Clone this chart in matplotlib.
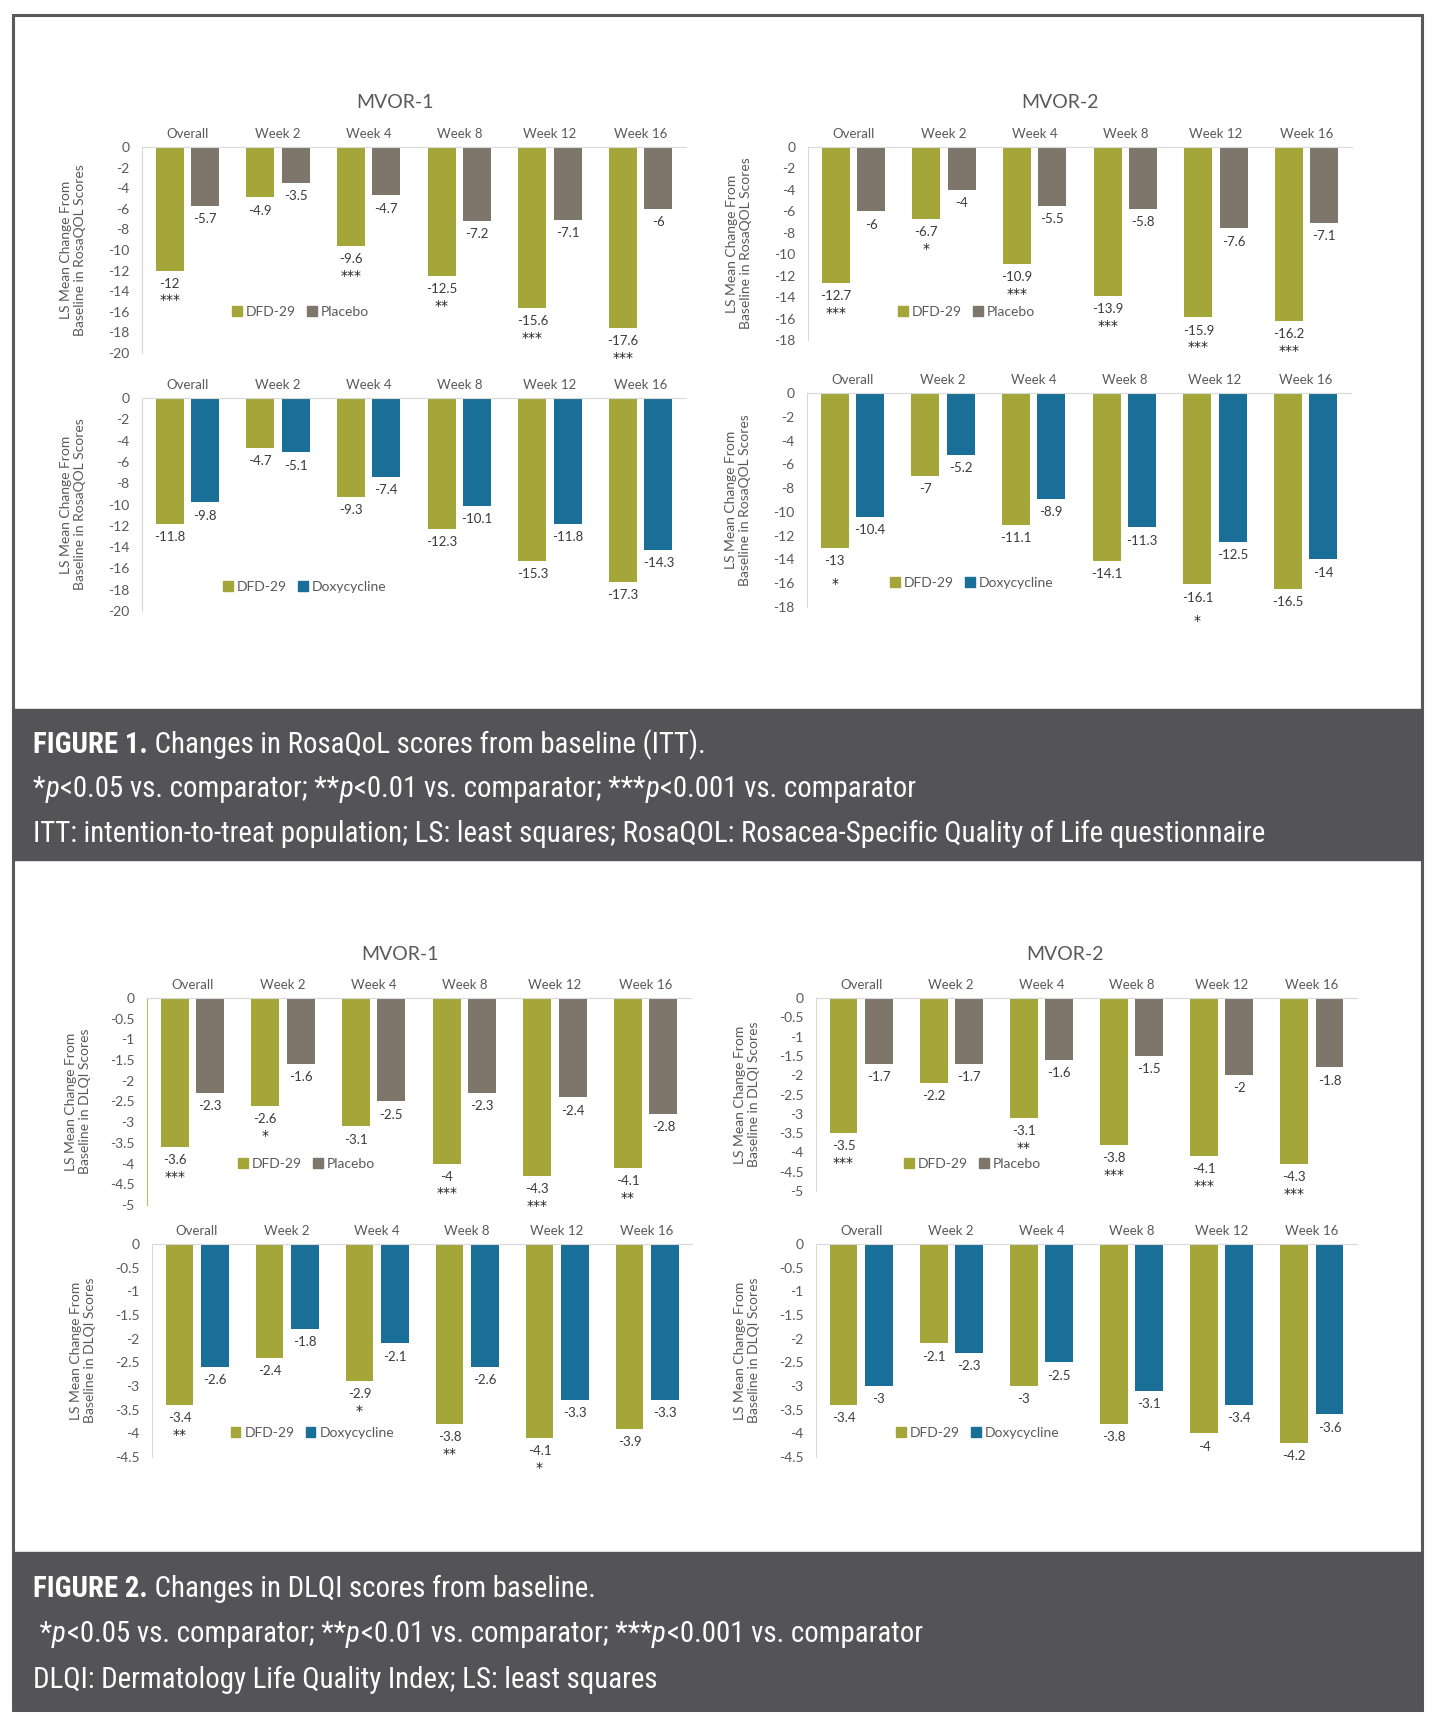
import numpy as np
import matplotlib
matplotlib.use("Agg")
import matplotlib.pyplot as plt
from matplotlib.patches import Rectangle, Patch
from matplotlib.ticker import FuncFormatter
from matplotlib import font_manager

W, H = 1439, 1719

categories = ["Overall", "Week 2", "Week 4", "Week 8", "Week 12", "Week 16"]

# Figure 1: RosaQOL
rq1_dfd_p = [-12, -4.9, -9.6, -12.5, -15.6, -17.6]
rq1_pbo = [-5.7, -3.5, -4.7, -7.2, -7.1, -6]
rq1_sig_p = ["***", "", "***", "**", "***", "***"]

rq2_dfd_p = [-12.7, -6.7, -10.9, -13.9, -15.9, -16.2]
rq2_pbo = [-6, -4, -5.5, -5.8, -7.6, -7.1]
rq2_sig_p = ["***", "*", "***", "***", "***", "***"]

rq1_dfd_d = [-11.8, -4.7, -9.3, -12.3, -15.3, -17.3]
rq1_doxy = [-9.8, -5.1, -7.4, -10.1, -11.8, -14.3]
rq1_sig_d = ["", "", "", "", "", ""]

rq2_dfd_d = [-13, -7, -11.1, -14.1, -16.1, -16.5]
rq2_doxy = [-10.4, -5.2, -8.9, -11.3, -12.5, -14]
rq2_sig_d = ["*", "", "", "", "*", ""]

# Figure 2: DLQI
dl1_dfd_p = [-3.6, -2.6, -3.1, -4, -4.3, -4.1]
dl1_pbo = [-2.3, -1.6, -2.5, -2.3, -2.4, -2.8]
dl1_sig_p = ["***", "*", "", "***", "***", "**"]

dl2_dfd_p = [-3.5, -2.2, -3.1, -3.8, -4.1, -4.3]
dl2_pbo = [-1.7, -1.7, -1.6, -1.5, -2, -1.8]
dl2_sig_p = ["***", "", "**", "***", "***", "***"]

dl1_dfd_d = [-3.4, -2.4, -2.9, -3.8, -4.1, -3.9]
dl1_doxy = [-2.6, -1.8, -2.1, -2.6, -3.3, -3.3]
dl1_sig_d = ["**", "", "*", "**", "*", ""]

dl2_dfd_d = [-3.4, -2.1, -3, -3.8, -4, -4.2]
dl2_doxy = [-3, -2.3, -2.5, -3.1, -3.4, -3.6]
dl2_sig_d = ["", "", "", "", "", ""]

rq_ticks_20 = [0, -2, -4, -6, -8, -10, -12, -14, -16, -18, -20]
rq_ticks_18 = [0, -2, -4, -6, -8, -10, -12, -14, -16, -18]
dl_ticks_5 = [0, -0.5, -1, -1.5, -2, -2.5, -3, -3.5, -4, -4.5, -5]
dl_ticks_45 = [0, -0.5, -1, -1.5, -2, -2.5, -3, -3.5, -4, -4.5]

GREEN = "#a4a63a"
PLACEBO = "#7e756b"
DOXY = "#1a6f99"
TXT = "#595959"
VAL = "#3a3a3a"
GRID = "#d9d9d9"
BOX = "#545457"

# pick a narrow font for the captions if one is installed
entries = font_manager.fontManager.ttflist
names = {f.name for f in entries}
cap_font, cap_stretch = "Roboto", "normal"
narrow = ["Liberation Sans Narrow", "Roboto Condensed", "Open Sans Condensed",
          "Noto Sans Condensed", "Arial Narrow", "Nimbus Sans Narrow"]
found = [n for n in narrow if n in names]
if found:
    cap_font = found[0]
else:
    cond = [f for f in entries if f.stretch in ("condensed", "semi-condensed", "extra-condensed")
            and f.style == "normal"]
    if cond:
        cap_font, cap_stretch = cond[0].name, cond[0].stretch
chart_font = "Lato" if "Lato" in names else "DejaVu Sans"

plt.rcParams["font.family"] = [chart_font, "DejaVu Sans"]

fig = plt.figure(figsize=(W / 100, H / 100), dpi=100)
renderer = fig.canvas.get_renderer()


def rect(x0, y0, x1, y1):
    return [x0 / W, 1 - y1 / H, (x1 - x0) / W, (y1 - y0) / H]


def fmt(v, pos=None):
    return "0" if v == 0 else f"{v:g}"


def panel(box, dfd, comp, comp_name, comp_color, sig, ticks, ylabel,
          leg_x, leg_y, star_off=21.5, spine=GRID):
    ax = fig.add_axes(rect(*box))
    x = np.arange(len(categories))
    ax.bar(x - 0.195, dfd, 0.31, color=GREEN, zorder=2)
    ax.bar(x + 0.195, comp, 0.31, color=comp_color, zorder=2)
    ax.set_xlim(-0.5, len(categories) - 0.5)
    ax.set_ylim(ticks[-1], 0)
    ax.set_yticks(ticks)
    ax.yaxis.set_major_formatter(FuncFormatter(fmt))
    ax.set_xticks(x)
    ax.set_xticklabels(categories)
    ax.xaxis.tick_top()
    ax.tick_params(axis="x", length=0, pad=5, labelsize=9.5, labelcolor=TXT)
    ax.tick_params(axis="y", length=0, pad=9, labelsize=10, labelcolor=TXT)
    for s in ["right", "bottom"]:
        ax.spines[s].set_visible(False)
    ax.spines["top"].set_color(GRID)
    ax.spines["left"].set_color(spine)
    ax.set_ylabel(ylabel, fontsize=10, color=TXT, linespacing=1.2)
    ax.yaxis.set_label_coords(-56 / 544, 0.5)
    for xi, v in zip(x - 0.195, dfd):
        ax.annotate(fmt(v), (xi, v), xytext=(0, -9.5), textcoords="offset points",
                    ha="center", va="center", fontsize=9.5, color=VAL)
    for xi, v in zip(x + 0.195, comp):
        ax.annotate(fmt(v), (xi, v), xytext=(0, -9.5), textcoords="offset points",
                    ha="center", va="center", fontsize=9.5, color=VAL)
    for xi, v, s in zip(x - 0.195, dfd, sig):
        if s:
            ax.annotate(s, (xi, v), xytext=(0, -star_off), textcoords="offset points",
                        ha="center", va="center", fontsize=10, color="#222222",
                        family="DejaVu Sans")
    handles = [Patch(color=GREEN, label="DFD-29"), Patch(color=comp_color, label=comp_name)]
    ax.legend(handles=handles, loc="center left", bbox_to_anchor=(leg_x, leg_y),
              ncol=2, frameon=False, fontsize=10, handlelength=0.7, handleheight=0.7,
              handletextpad=0.3, columnspacing=0.8, borderpad=0, labelcolor=TXT)
    return ax


rq_label = "LS Mean Change From\nBaseline in RosaQOL Scores"
dl_label = "LS Mean Change From\nBaseline in DLQI Scores"

# Figure 1 panels
panel((142, 147, 686, 353), rq1_dfd_p, rq1_pbo, "Placebo", PLACEBO, rq1_sig_p,
      rq_ticks_20, rq_label, 0.153, 0.199)
panel((808, 147, 1352, 340), rq2_dfd_p, rq2_pbo, "Placebo", PLACEBO, rq2_sig_p,
      rq_ticks_18, rq_label, 0.153, 0.145)
panel((142, 398, 686, 611), rq1_dfd_d, rq1_doxy, "Doxycycline", DOXY, rq1_sig_d,
      rq_ticks_20, rq_label, 0.136, 0.113)
panel((807, 393, 1351, 607), rq2_dfd_d, rq2_doxy, "Doxycycline", DOXY, rq2_sig_d,
      rq_ticks_18, rq_label, 0.14, 0.112, star_off=26)

# Figure 2 panels
panel((147, 998, 691, 1205), dl1_dfd_p, dl1_pbo, "Placebo", PLACEBO, dl1_sig_p,
      dl_ticks_5, dl_label, 0.155, 0.198, spine="#b9bb6a")
panel((816, 998, 1357, 1191), dl2_dfd_p, dl2_pbo, "Placebo", PLACEBO, dl2_sig_p,
      dl_ticks_5, dl_label, 0.15, 0.14)
panel((152, 1244, 692, 1457), dl1_dfd_d, dl1_doxy, "Doxycycline", DOXY, dl1_sig_d,
      dl_ticks_45, dl_label, 0.133, 0.113)
panel((816, 1244, 1357, 1457), dl2_dfd_d, dl2_doxy, "Doxycycline", DOXY, dl2_sig_d,
      dl_ticks_45, dl_label, 0.135, 0.113)

# panel titles
for tx, ty, t in [(395, 103, "MVOR-1"), (1060, 103, "MVOR-2"),
                  (400, 954, "MVOR-1"), (1065, 954, "MVOR-2")]:
    fig.text(tx / W, 1 - ty / H, t, ha="center", va="center", fontsize=14, color=TXT)

# outer frame and caption boxes
fig.patches.append(Rectangle((13 / W, 1 - 1710 / H), 1409 / W, 1695 / H, fill=False,
                             edgecolor="#5a5a5a", lw=2.2, transform=fig.transFigure))
fig.patches.append(Rectangle((13 / W, 1 - 860 / H), 1409 / W, 151 / H, color=BOX,
                             transform=fig.transFigure))
fig.patches.append(Rectangle((13 / W, 1 - 1710 / H), 1409 / W, 158 / H, color=BOX,
                             transform=fig.transFigure))

# caption lines as pieces: (text, style, weight)
cap1 = [[("FIGURE 1.", "normal", "bold"), (" Changes in RosaQoL scores from baseline (ITT).", "normal", "normal")],
        [("*", "normal", "normal"), ("p", "italic", "normal"), ("<0.05 vs. comparator; **", "normal", "normal"),
         ("p", "italic", "normal"), ("<0.01 vs. comparator; ***", "normal", "normal"),
         ("p", "italic", "normal"), ("<0.001 vs. comparator", "normal", "normal")],
        [("ITT: intention-to-treat population; LS: least squares; RosaQOL: Rosacea-Specific Quality of Life questionnaire", "normal", "normal")]]
cap2 = [[("FIGURE 2.", "normal", "bold"), (" Changes in DLQI scores from baseline.", "normal", "normal")],
        [(" *", "normal", "normal"), ("p", "italic", "normal"), ("<0.05 vs. comparator; **", "normal", "normal"),
         ("p", "italic", "normal"), ("<0.01 vs. comparator; ***", "normal", "normal"),
         ("p", "italic", "normal"), ("<0.001 vs. comparator", "normal", "normal")],
        [("DLQI: Dermatology Life Quality Index; LS: least squares", "normal", "normal")]]

# size the caption font so the longest line spans the same width as the reference
probe = fig.text(0, 0, cap1[2][0][0], fontsize=20, family=cap_font, fontstretch=cap_stretch)
probe_w = probe.get_window_extent(renderer).width
probe.remove()
cap_size = min(21, 20 * 1233 / probe_w)


def cap_line(x_px, y_px, pieces):
    x = x_px
    for txt, style, weight in pieces:
        t = fig.text(x / W, 1 - y_px / H, txt, ha="left", va="baseline", color="white",
                     fontsize=cap_size, family=cap_font, fontstretch=cap_stretch,
                     fontstyle=style, fontweight=weight)
        x = t.get_window_extent(renderer).x1 + (1 if style == "italic" else 0)


for ys, lines in [((753, 797, 842), cap1), ((1597, 1642, 1688), cap2)]:
    for yy, line in zip(ys, lines):
        cap_line(33, yy, line)

fig.savefig("out.png", dpi=100, facecolor="white")
